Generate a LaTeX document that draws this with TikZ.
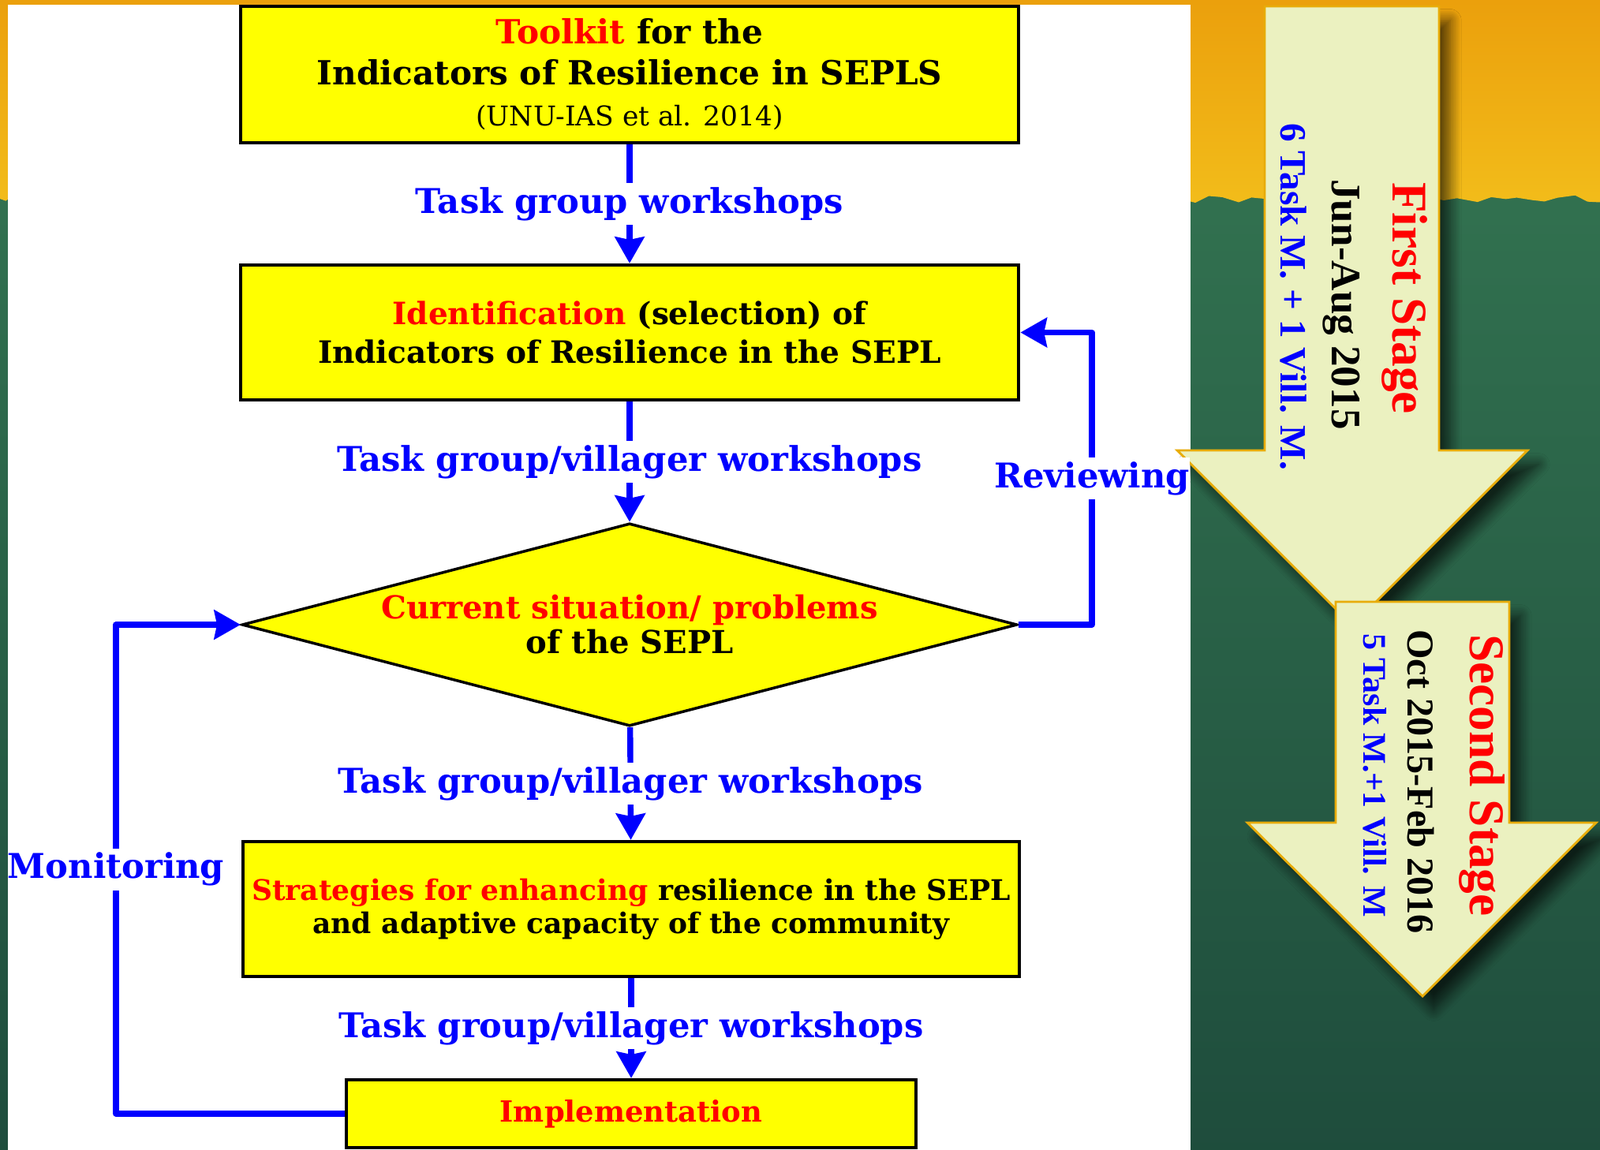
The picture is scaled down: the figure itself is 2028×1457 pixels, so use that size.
\documentclass[tikz,border=0pt]{standalone}
\usepackage{fontspec}
\setmainfont{DejaVu Serif}
\newfontfamily\stagefont{Liberation Serif}
\usepackage{tikz}
\usetikzlibrary{positioning, arrows.meta, shapes.geometric, shadows.blur, decorations.pathmorphing}
\definecolor{boxyellow}{RGB}{255,255,0}
\definecolor{flowblue}{RGB}{0,0,255}
\definecolor{flowred}{RGB}{255,0,0}
\definecolor{bgorange}{RGB}{234,156,10}
\definecolor{bggold}{RGB}{242,188,26}
\definecolor{bggreen}{RGB}{50,114,80}
\definecolor{bgdark}{RGB}{30,76,60}
\definecolor{stagefill}{RGB}{235,241,192}
\definecolor{stageedge}{RGB}{232,172,10}
\tikzset{
    flowbox/.style={draw=black, fill=boxyellow, line width=1.2pt, minimum width=9.86cm, align=center, inner sep=0pt},
    decbox/.style={draw=black, fill=boxyellow, line width=1pt, diamond, aspect=3.82, minimum width=9.82cm, minimum height=2.57cm, inner sep=0pt, align=center},
    wslabel/.style={fill=white, text=flowblue, inner xsep=0pt, inner ysep=1.5pt, font=\fontsize{12.3}{14}\selectfont\bfseries},
    flowarrow/.style={draw=flowblue, line width=2.1pt, line join=round, -{Stealth[length=9.5pt, width=10.5pt, inset=1pt]}},
    stagearrow/.style={draw=stageedge, fill=stagefill, line width=0.8pt, blur shadow={shadow xshift=4pt, shadow yshift=-5pt, shadow blur radius=4pt, shadow blur steps=10, shadow opacity=65}},
    stagetxt/.style={rotate=-90, anchor=base, inner sep=0pt},
}

\begin{document}
\begin{tikzpicture}[x=0.01cm, y=-0.01cm]
\useasboundingbox (0,0) rectangle (2028,1457);

% background: green board with orange band on top
\shade[top color=bggreen, bottom color=bgdark] (-20,200) rectangle (2048,1480);
\shade[top color=bgorange, bottom color=bggold, decorate,
       decoration={random steps, segment length=5pt, amplitude=1.5pt}]
  (-30,-30) rectangle (2060,252);
\fill[white] (10,6) rectangle (1509,1470);

% stage arrows
\draw[stagearrow] (1603,8) -- (1824,8) -- (1824,571) -- (1936,571) -- (1714,793)
  -- (1492,571) -- (1603,571) -- cycle;
\draw[stagearrow] (1693,763) -- (1913,763) -- (1913,1043) -- (2023,1043) -- (1803,1263)
  -- (1581,1043) -- (1693,1043) -- cycle;

\node[stagetxt, text=flowred, font=\stagefont\bfseries\fontsize{18}{20}\selectfont] (st1a) at (1765,378) {First Stage};
\node[stagetxt, font=\stagefont\bfseries\fontsize{15.1}{17}\selectfont] (st1b) at (1688,386) {Jun-Aug 2015};
\node[stagetxt, text=flowblue, font=\stagefont\bfseries\fontsize{13.4}{15}\selectfont] (st1c) at (1623,376) {6 Task M. + 1 Vill. M.};

\node[stagetxt, text=flowred, font=\stagefont\bfseries\fontsize{18}{20}\selectfont] (st2a) at (1863,983) {Second Stage};
\node[stagetxt, font=\stagefont\bfseries\fontsize{13.7}{15}\selectfont] (st2b) at (1784,991) {Oct 2015-Feb 2016};
\node[stagetxt, text=flowblue, font=\stagefont\bfseries\fontsize{11.9}{13}\selectfont] (st2c) at (1728,983) {5 Task M.+1 Vill. M};

% flow chart
\node[flowbox, minimum height=1.73cm, font=\fontsize{12}{14.8}\selectfont\bfseries] (toolkit) at (798,94.5)
  {\textcolor{flowred}{Toolkit} for the\\ Indicators of Resilience in SEPLS\\
   {\mdseries\fontsize{9.8}{12}\selectfont (UNU-IAS et al. 2014)}};
\node[flowbox, minimum height=1.71cm, font=\fontsize{11.1}{13.9}\selectfont\bfseries] (ident) at (798,421.5)
  {\textcolor{flowred}{Identification} (selection) of\\ Indicators of Resilience in the SEPL};
\node[decbox, font=\fontsize{11.4}{12.5}\selectfont\bfseries] (situation) at (798,792)
  {\textcolor{flowred}{Current situation/ problems}\\ of the SEPL};
\node[flowbox, minimum width=9.84cm, minimum height=1.71cm, font=\fontsize{10.25}{11.95}\selectfont\bfseries] (strat) at (800,1152.5)
  {\textcolor{flowred}{Strategies for enhancing} resilience in the SEPL\\ and adaptive capacity of the community};
\node[flowbox, minimum width=7.22cm, minimum height=0.86cm, text=flowred, font=\fontsize{10.5}{12}\selectfont\bfseries] (impl) at (800,1412)
  {Implementation};

\draw[flowarrow] (toolkit) -- node[wslabel] {Task group workshops} (ident);
\draw[flowarrow] (ident) -- node[wslabel] {Task group/villager workshops} (situation);
\draw[flowarrow] (situation) -- node[wslabel] {Task group/villager workshops} (strat);
\draw[flowarrow] (strat) -- node[wslabel] {Task group/villager workshops} (impl);

% feedback loops
\coordinate (revx) at (1384,792);
\coordinate (monx) at (147,1412);
\draw[flowarrow] (situation.east) -- (revx) -- node[wslabel] {Reviewing} (revx |- ident.east) -- (ident.east);
\draw[flowarrow] (impl.west) -- (monx) -- node[wslabel] {Monitoring} (monx |- situation.west) -- (situation.west);

\end{tikzpicture}
\end{document}
